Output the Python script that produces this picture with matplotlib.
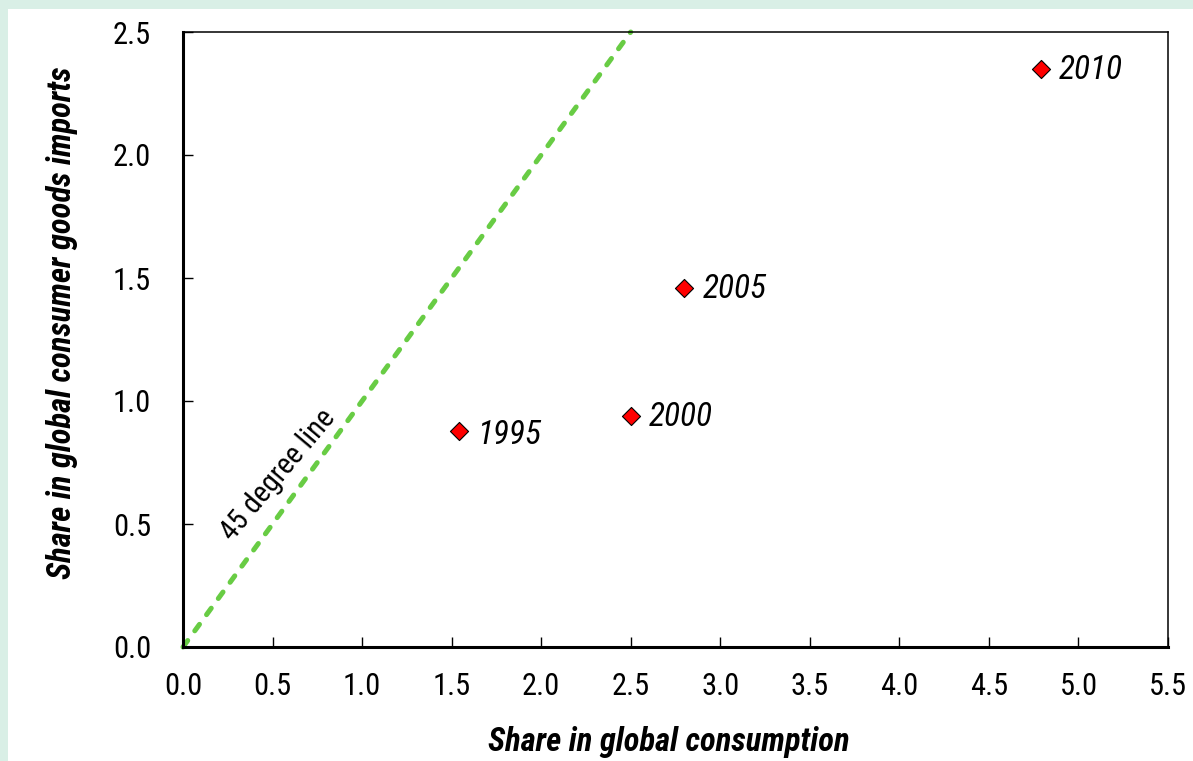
import matplotlib.pyplot as plt

plt.rcParams['font.family'] = ['Roboto Condensed', 'DejaVu Sans']

years = ['1995', '2000', '2005', '2010']
consumption = [1.54, 2.50, 2.80, 4.79]
imports = [0.88, 0.94, 1.46, 2.35]
line_x = [0, 2.5]
line_y = [0, 2.5]

fig = plt.figure(figsize=(11.93, 7.61), dpi=100)
fig.patch.set_facecolor('#d9efe6')
# white panel inside the mint frame
bg = fig.add_axes([8 / 1193, 0, 1, 1 - 9 / 761], zorder=-1)
bg.set_facecolor('white')
bg.set_xticks([])
bg.set_yticks([])
for s in bg.spines.values():
    s.set_visible(False)

ax = fig.add_axes([183 / 1193, 1 - 647 / 761, (1168 - 183) / 1193, (647 - 32) / 761])
ax.plot(line_x, line_y, color='#68cc44', lw=3.6, ls=(0, (1.6, 2.4)), dash_capstyle='round',
        clip_on=False, zorder=2)
ax.scatter(consumption, imports, marker='D', s=85, color='red', edgecolor='black',
           linewidth=0.8, zorder=3, clip_on=False)
for x, y, t in zip(consumption, imports, years):
    dy = -3 if t == '1995' else -1
    ax.annotate(t, (x, y), xytext=(13, dy), textcoords='offset points', fontsize=24,
                style='italic', va='center', ha='left')

ax.text(0.53, 0.70, '45 degree line', fontsize=21, rotation=50, ha='center', va='center',
        rotation_mode='anchor')

ax.set_xlim(0, 5.5)
ax.set_ylim(0, 2.5)
ax.set_xticks([i * 0.5 for i in range(12)])
ax.set_yticks([i * 0.5 for i in range(6)])
ax.xaxis.set_major_formatter(plt.FormatStrFormatter('%.1f'))
ax.yaxis.set_major_formatter(plt.FormatStrFormatter('%.1f'))
ax.tick_params(direction='in', length=7, width=1, labelsize=22)
ax.tick_params(axis='x', pad=18)
ax.tick_params(axis='y', pad=23)
for s in ['left', 'bottom']:
    ax.spines[s].set_linewidth(2.2)
for s in ['top', 'right']:
    ax.spines[s].set_linewidth(1.1)

ax.set_xlabel('Share in global consumption', fontsize=23.5, fontweight='bold', style='italic')
ax.set_ylabel('Share in global consumer goods imports', fontsize=23.5, fontweight='bold',
              style='italic')
ax.xaxis.set_label_coords(0.493, -0.128)
ax.yaxis.set_label_coords(-0.107, 0.527)

fig.savefig('out.png', dpi=100)
